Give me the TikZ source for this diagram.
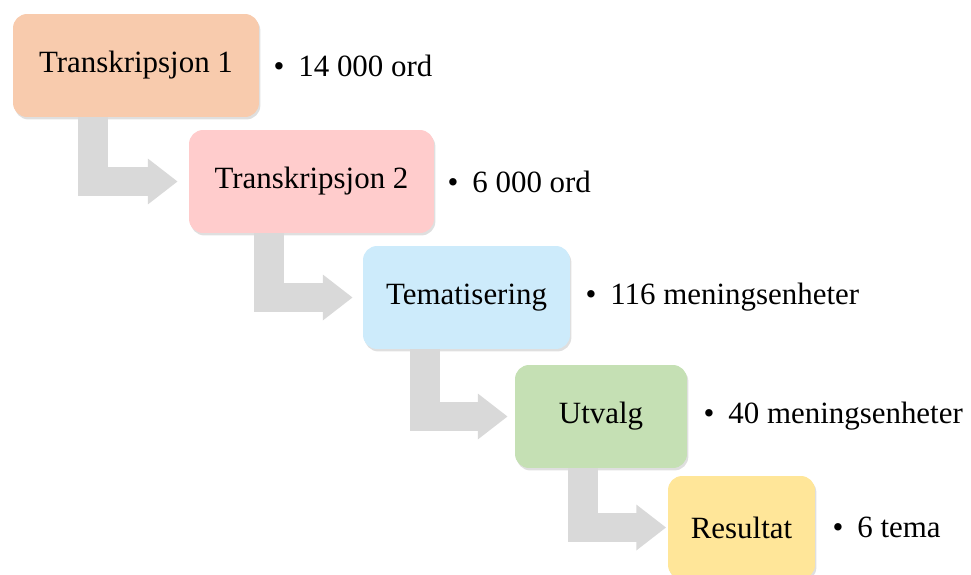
\documentclass[tikz,border=0pt]{standalone}
\usepackage{fontspec}
\setmainfont{Liberation Serif}
\usetikzlibrary{arrows.meta,calc,positioning,shadows}
\definecolor{Peach}{HTML}{F8CBAD}
\definecolor{Blush}{HTML}{FFCCCC}
\definecolor{Sky}{HTML}{CDEBFB}
\definecolor{Sage}{HTML}{C5E0B4}
\definecolor{Butter}{HTML}{FFE699}
\definecolor{Flow}{HTML}{D9D9D9}
\newcommand{\bigtext}{\fontsize{17.6}{21}\selectfont}
\newcommand{\bul}{\makebox[0.8em][l]{\textbullet}}
\tikzset{
  stage/.style={rounded corners=8pt, minimum height=2.06cm, inner sep=0pt, font=\bigtext,
    drop shadow={shadow xshift=0.8pt, shadow yshift=-1.4pt, opacity=0.25}},
  note/.style={inner sep=0pt, anchor=west, font=\bigtext},
  flow/.style={draw=Flow, line width=17pt, line join=miter, -{Triangle[width=25pt,length=17pt]}}
}

\begin{document}
\begin{tikzpicture}[x=0.02cm, y=-0.02cm]
    \useasboundingbox (0,0) rectangle (971,575);
    % the five steps
    \node[stage, fill=Peach, minimum width=4.92cm] (a) at (136,65.5) {Transkripsjon 1};
    \node[stage, fill=Blush, minimum width=4.90cm] (b) at (311.5,181.5) {Transkripsjon 2};
    \node[stage, fill=Sky, minimum width=4.14cm] (c) at (466.5,297.5) {Tematisering};
    \node[stage, fill=Sage, minimum width=3.44cm] (d) at (601,416.5) {Utvalg};
    \node[stage, fill=Butter, minimum width=2.94cm] (e) at (741.5,527.5) {Resultat};
    % counts
    \node[note, right=0.28cm of a] (na) {\bul 14 000 ord};
    \node[note, right=0.26cm of b] (nb) {\bul 6 000 ord};
    \node[note, right=0.3cm of c] (nc) {\bul 116 meningsenheter};
    \node[note, right=0.32cm of d] (nd) {\bul 40 meningsenheter};
    \node[note, right=0.34cm of e] (ne) {\bul 6 tema};
    % bent arrows
    \foreach \s/\t/\d/\g in {a/b/1.91/0.22, b/c/1.88/0.2, c/d/1.8/0.14, d/e/1.7/0.03} {
      \coordinate (v) at ($(\t.west)+(-\d cm,0)$);
      \draw[flow] (v |- \s.south) |- ([xshift=-\g cm]\t.west);
    }
\end{tikzpicture}
\end{document}
